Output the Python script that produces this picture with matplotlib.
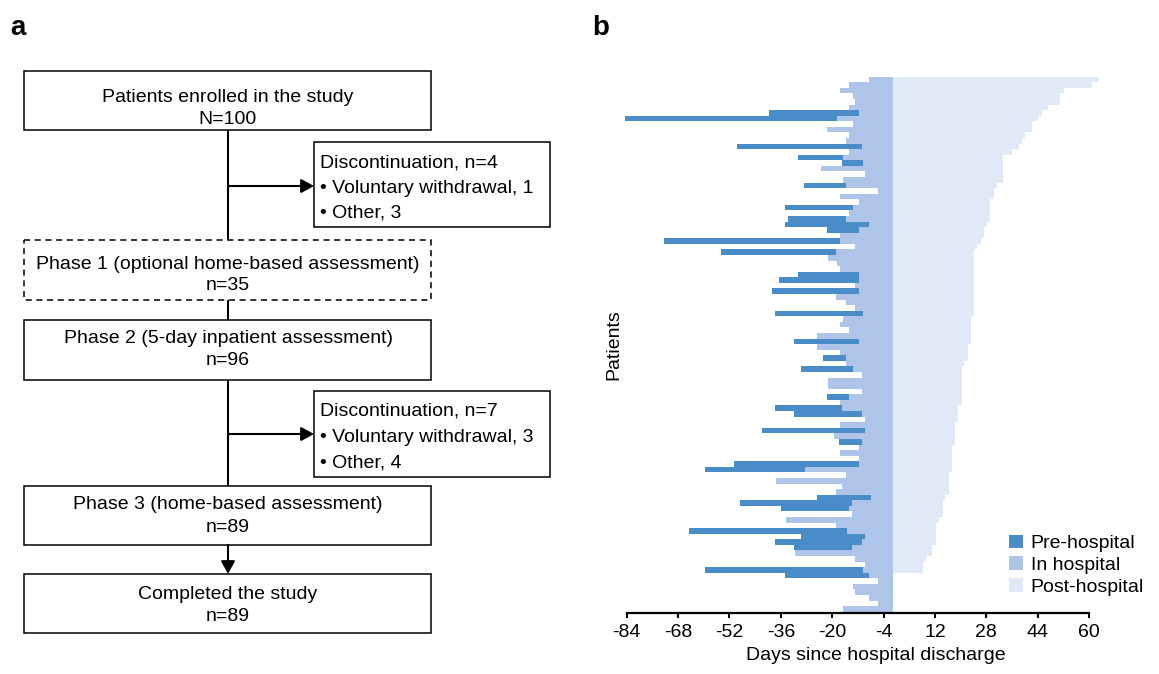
import numpy as np
import matplotlib
matplotlib.use("Agg")
import matplotlib.pyplot as plt
from matplotlib.patches import Rectangle, Patch

plt.rcParams['font.family'] = ['Liberation Sans', 'DejaVu Sans']

# ---------------- data (panel b), rows from top to bottom ----------------
nan = np.nan
pre_start = [nan, nan, nan, nan, nan, nan, -39.7, -84.5, nan, nan,
             nan, nan, -49.6, nan, -30.6, -16.9, nan, nan, nan, -28.8,
             nan, nan, nan, -34.7, nan, -33.7, -34.7, -21.6, nan, -72.4,
             nan, -54.6, nan, nan, nan, -30.6, -36.6, nan, -38.7, nan,
             nan, nan, -37.8, nan, nan, nan, nan, -31.9, nan, nan,
             -22.8, nan, -29.7, nan, nan, nan, nan, -21.6, nan, -37.8,
             -31.9, nan, nan, -41.8, nan, -17.9, nan, nan, nan, -50.6,
             -59.6, nan, nan, nan, nan, -24.7, -48.7, -35.9, nan, nan,
             nan, -64.6, -29.7, -37.8, -31.9, nan, nan, nan, -59.6, -34.7,
             nan, nan, nan, nan, nan, nan]
admission = [-8.6, -14.8, -17.5, -13.6, -12.8, -14.6, -11.6, -18.5, -13.6, -21.6,
             -14.8, -15.6, -10.7, -14.8, -16.6, -10.4, -23.5, -9.7, -16.7, -15.7,
             -5.8, -17.5, -11.6, -13.5, -14.7, -15.7, -8.5, -11.6, -17.5, -17.5,
             -12.9, -18.8, -21.4, -18.5, -17.5, -11.6, -11.6, -12.8, -11.6, -18.7,
             -15.7, -12.8, -10.4, -16.6, -17.5, -14.7, -24.7, -11.6, -24.7, -17.5,
             -15.7, -15.7, -13.5, -10.6, -21.4, -21.4, -10.6, -14.7, -17.5, -16.9,
             -10.7, -9.7, -17.5, -9.8, -19.4, -10.7, -11.6, -17.5, -11.6, -11.6,
             -28.5, -15.7, -37.6, -16.9, -18.7, -7.9, -13.8, -14.7, -13.7, -34.5,
             -18.7, -15.4, -9.8, -10.7, -13.8, -31.6, -12.8, -9.7, -10.4, -8.5,
             -5.8, -13.5, -12.8, -8.5, -5.8, -16.7]
post_end = [63.1, 61.0, 52.3, 51.1, 51.1, 47.2, 45.3, 44.0, 42.3, 42.3,
            40.1, 39.0, 38.1, 36.1, 33.3, 33.3, 33.3, 33.3, 33.3, 31.3,
            30.4, 30.4, 29.2, 29.2, 29.2, 29.2, 28.2, 27.3, 27.3, 26.4,
            25.1, 24.2, 24.2, 24.2, 24.2, 24.2, 24.2, 24.2, 24.2, 24.2,
            24.2, 24.2, 24.2, 23.2, 23.2, 23.2, 23.2, 23.2, 22.2, 22.2,
            22.2, 21.2, 20.4, 20.4, 20.4, 20.4, 20.4, 20.4, 20.4, 19.2,
            19.2, 19.2, 18.4, 18.4, 18.4, 18.4, 17.3, 17.3, 17.3, 17.3,
            17.3, 16.4, 16.4, 16.4, 16.4, 15.3, 14.4, 14.4, 14.4, 13.3,
            12.4, 12.4, 12.4, 12.4, 11.2, 11.2, 9.2, 8.2, 8.2, nan,
            nan, nan, nan, nan, nan, nan]
discharge_day = -1.0
xticks = [-84, -68, -52, -36, -20, -4, 12, 28, 44, 60]
series_labels = ["Pre-hospital", "In hospital", "Post-hospital"]
colors = ["#4a8cc7", "#aec4e8", "#e1e8f8"]

pre_start = np.array(pre_start)
admission = np.array(admission)
post_end = np.array(post_end)
n = len(admission)
rows = np.arange(n)

W, H = 1159, 674
fig = plt.figure(figsize=(W / 100, H / 100), dpi=100)

# ---------------- panel a: flow chart (pixel coordinates) ----------------
fa = fig.add_axes([0, 0, 1, 1])
fa.set_xlim(0, W)
fa.set_ylim(H, 0)
fa.axis('off')

FS = 14
cx = 228
boxes = [  # x0, y0, x1, y1, dashed
    (24, 71, 431, 130, False),
    (24, 240, 431, 300, True),
    (24, 320, 431, 380, False),
    (24, 486, 431, 545, False),
    (24, 574, 431, 633, False),
    (314, 142, 550, 227, False),
    (314, 391, 550, 477, False),
]
for x0, y0, x1, y1, dashed in boxes:
    fa.add_patch(Rectangle((x0, y0), x1 - x0, y1 - y0, fill=False,
                           edgecolor='black', lw=1.1,
                           linestyle=(0, (4, 3)) if dashed else '-'))

center_lines = [
    ("Patients enrolled in the study", 102), ("N=100", 124),
    ("Phase 1 (optional home-based assessment)", 269), ("n=35", 290),
    ("Phase 2 (5-day inpatient assessment)", 343), ("n=96", 365),
    ("Phase 3 (home-based assessment)", 509), ("n=89", 532),
    ("Completed the study", 599), ("n=89", 621),
]
for s, yb in center_lines:
    fa.text(cx, yb, s, ha='center', va='baseline', fontsize=FS)

left_lines = [
    ("Discontinuation, n=4", 167), ("\u2022 Voluntary withdrawal, 1", 193),
    ("\u2022 Other, 3", 218),
    ("Discontinuation, n=7", 416), ("\u2022 Voluntary withdrawal, 3", 442),
    ("\u2022 Other, 4", 467),
]
for s, yb in left_lines:
    fa.text(320, yb, s, ha='left', va='baseline', fontsize=FS)

lk = dict(color='black', lw=1.5, solid_capstyle='butt')
fa.plot([cx, cx], [130, 240], **lk)
fa.plot([cx, cx], [300, 320], **lk)
fa.plot([cx, cx], [380, 486], **lk)
ap = dict(arrowstyle='-|>,head_length=0.55,head_width=0.3', color='black',
          lw=1.5, mutation_scale=14, shrinkA=0, shrinkB=0)
fa.annotate('', xy=(314, 186), xytext=(cx, 186), arrowprops=ap)
fa.annotate('', xy=(314, 434), xytext=(cx, 434), arrowprops=ap)
fa.annotate('', xy=(cx, 574), xytext=(cx, 545), arrowprops=ap)

fa.text(10, 35, "a", fontsize=20, fontweight='bold', ha='left', va='baseline')
fa.text(592, 35, "b", fontsize=20, fontweight='bold', ha='left', va='baseline')

# ---------------- panel b: patient timelines ----------------
x_left, x_right = 623.5, 1101.8
y_top, y_bot = 76.7, 613.3
ax = fig.add_axes([x_left / W, (H - y_bot) / H, (x_right - x_left) / W,
                   (y_bot - y_top) / H])
ax.patch.set_alpha(0)

m = ~np.isnan(pre_start)
ax.barh(rows[m], admission[m] - pre_start[m], left=pre_start[m], height=1.0,
        color=colors[0], linewidth=0)
ax.barh(rows, discharge_day - admission, left=admission, height=1.0,
        color=colors[1], linewidth=0)
m = ~np.isnan(post_end)
ax.barh(rows[m], post_end[m] - discharge_day, left=discharge_day, height=1.0,
        color=colors[2], linewidth=0)

ax.set_xlim(-85, 64)
ax.set_ylim(n - 0.5 + 0.29, -0.5)
for s in ['left', 'top', 'right']:
    ax.spines[s].set_visible(False)
ax.spines['bottom'].set_bounds(-84, 60)
ax.spines['bottom'].set_linewidth(1.6)
ax.set_xticks(xticks)
ax.set_xticklabels([str(t) for t in xticks])
ax.tick_params(axis='x', length=3.8, width=1.5, pad=4, labelsize=FS)
ax.set_yticks([])
ax.set_xlabel("Days since hospital discharge", fontsize=FS)
ax.xaxis.label.set_va('center')
ax.xaxis.set_label_coords((875.5 - x_left) / (x_right - x_left),
                          -(656 - y_bot) / (y_bot - y_top))
ax.set_ylabel("Patients", fontsize=FS, labelpad=1)

handles = [Patch(facecolor=c, edgecolor='none') for c in colors]
fig.legend(handles, series_labels, loc='upper left',
           bbox_to_anchor=(1009 / W, 1 - 534.5 / H), frameon=False,
           fontsize=FS, handlelength=0.72, handleheight=0.72,
           handletextpad=0.4, labelspacing=0.21, borderpad=0,
           borderaxespad=0)

fig.savefig("out.png", dpi=100)
